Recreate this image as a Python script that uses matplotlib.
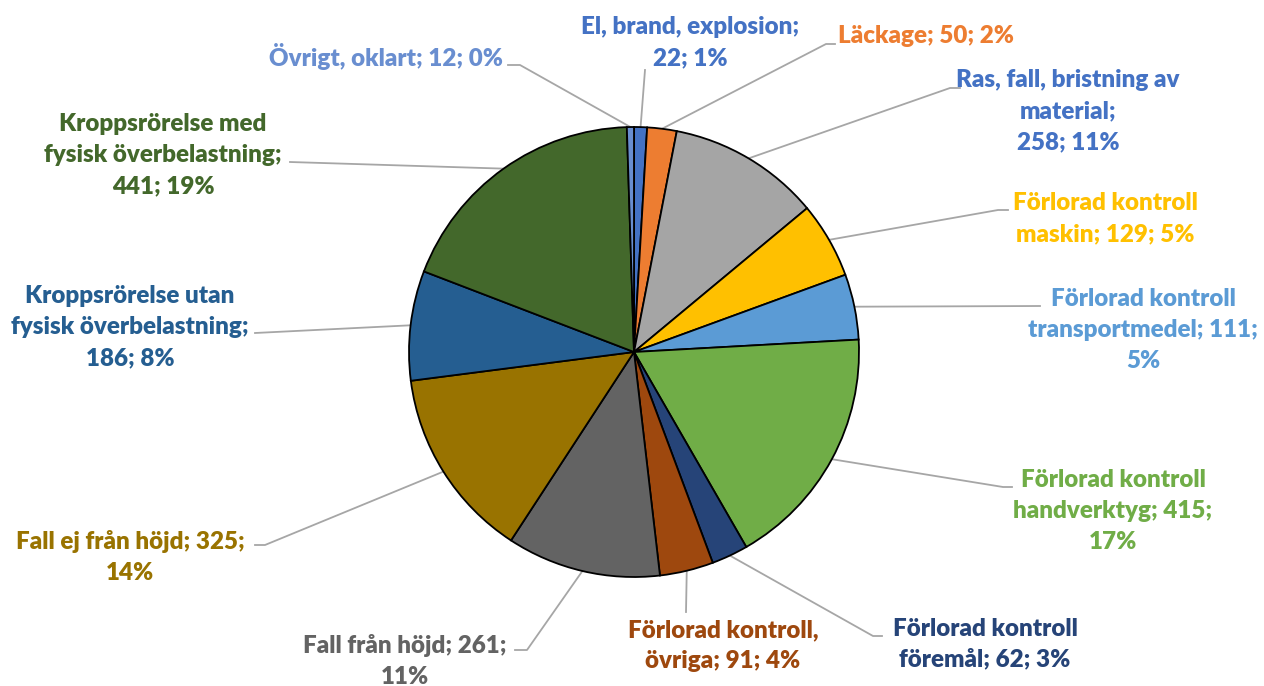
import numpy as np
import matplotlib
matplotlib.use("Agg")
import matplotlib.pyplot as plt

categories = ["El, brand, explosion", "Läckage", "Ras, fall, bristning av material",
              "Förlorad kontroll maskin", "Förlorad kontroll transportmedel",
              "Förlorad kontroll handverktyg", "Förlorad kontroll föremål",
              "Förlorad kontroll, övriga", "Fall från höjd", "Fall ej från höjd",
              "Kroppsrörelse utan fysisk överbelastning",
              "Kroppsrörelse med fysisk överbelastning", "Övrigt, oklart"]
values = [22, 50, 258, 129, 111, 415, 62, 91, 261, 325, 186, 441, 12]
percents = ["1%", "2%", "11%", "5%", "5%", "17%", "3%", "4%", "11%", "14%", "8%", "19%", "0%"]
label_texts = [
    "El, brand, explosion;\n22; 1%",
    "Läckage; 50; 2%",
    "Ras, fall, bristning av\nmaterial;\n258; 11%",
    "Förlorad kontroll\nmaskin; 129; 5%",
    "Förlorad kontroll\ntransportmedel; 111;\n5%",
    "Förlorad kontroll\nhandverktyg; 415;\n17%",
    "Förlorad kontroll\nföremål; 62; 3%",
    "Förlorad kontroll,\növriga; 91; 4%",
    "Fall från höjd; 261;\n11%",
    "Fall ej från höjd; 325;\n14%",
    "Kroppsrörelse utan\nfysisk överbelastning;\n186; 8%",
    "Kroppsrörelse med\nfysisk överbelastning;\n441; 19%",
    "Övrigt, oklart; 12; 0%",
]
colors = ["#4472C4", "#ED7D31", "#A5A5A5", "#FFC000", "#5B9BD5", "#70AD47",
          "#264478", "#9E480E", "#636363", "#997300", "#255E91", "#43682B", "#698ED0"]
text_colors = ["#4472C4", "#ED7D31", "#4472C4", "#FFC000", "#5B9BD5", "#70AD47",
               "#264478", "#9E480E", "#636363", "#997300", "#255E91", "#43682B", "#698ED0"]

W, H = 1264, 686
fig = plt.figure(figsize=(W / 100, H / 100), dpi=100)
ax = fig.add_axes([0, 0, 1, 1])

cx, cy, R = 634, H - 352, 225
wedges, _ = ax.pie(values, colors=colors, startangle=90, counterclock=False,
                   center=(cx, cy), radius=R, frame=True,
                   wedgeprops=dict(edgecolor="black", linewidth=1.3))
ax.set_xlim(0, W)
ax.set_ylim(0, H)
ax.set_aspect("equal")
ax.axis("off")

# label layout: (text x, text y (top-down px), ha, elbow point, end point)
layout = [
    ((690, 43), "center", (645, 70), None),
    ((838, 36), "left", (826, 44), (835, 44)),
    ((1068, 111), "center", (950, 88), (960, 88)),
    ((1105, 219), "center", (998, 210), (1008, 210)),
    ((1143, 330), "center", (1040, 306), None),
    ((1113, 511), "center", (1003, 487), (1012, 487)),
    ((985, 644), "center", (873, 636), (882, 636)),
    ((723, 646), "center", (686, 612), None),
    ((405, 661), "center", (527, 650), (515, 650)),
    ((130, 557), "center", (265, 545), (255, 545)),
    ((130, 327), "center", (255, 333), None),
    ((163, 155), "center", (290, 162), None),
    ((503, 57), "right", (520, 65), (508, 65)),
]

font = dict(family=["Lato", "DejaVu Sans"], fontweight="heavy", fontsize=17.4)
for w, txt, col, (tpos, ha, elbow, end) in zip(wedges, label_texts, text_colors, layout):
    mid = np.deg2rad((w.theta1 + w.theta2) / 2)
    sx, sy = cx + R * np.cos(mid), cy + R * np.sin(mid)
    xs = [sx, elbow[0]]
    ys = [sy, H - elbow[1]]
    if end is not None:
        xs.append(end[0]); ys.append(H - end[1])
    ax.plot(xs, ys, color="#A6A6A6", lw=1.3, zorder=0)
    ax.text(tpos[0], H - tpos[1], txt, color=col, ha=ha, va="center",
            multialignment="center", linespacing=1.5, **font)

fig.savefig("out.png", dpi=100)
